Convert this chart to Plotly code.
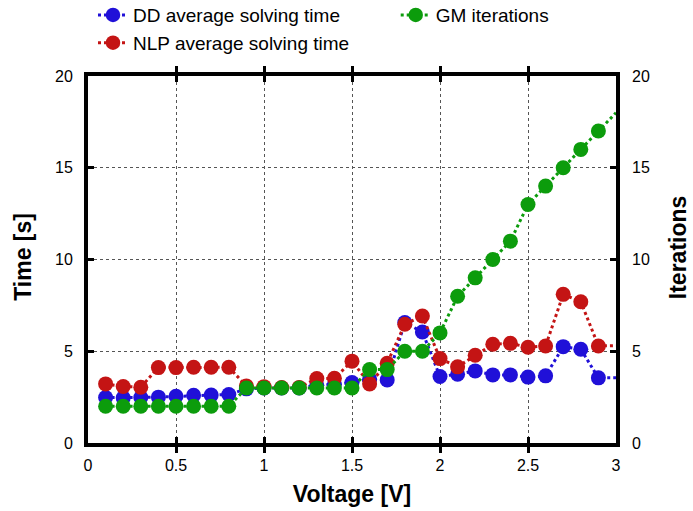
import plotly.graph_objects as go

voltage = [0.1, 0.2, 0.3, 0.4, 0.5, 0.6, 0.7, 0.8, 0.9, 1.0,
           1.1, 1.2, 1.3, 1.4, 1.5, 1.6, 1.7, 1.8, 1.9, 2.0,
           2.1, 2.2, 2.3, 2.4, 2.5, 2.6, 2.7, 2.8, 2.9, 3.0]
dd_time = [2.48, 2.47, 2.48, 2.50, 2.55, 2.60, 2.61, 2.64, 2.95, 3.00,
           3.00, 3.00, 3.15, 3.20, 3.30, 3.48, 3.44, 6.56, 6.05, 3.62,
           3.75, 3.93, 3.71, 3.71, 3.59, 3.66, 5.25, 5.11, 3.55, 3.55]
nlp_time = [3.22, 3.08, 3.04, 4.11, 4.11, 4.13, 4.13, 4.13, 3.10, 3.07,
            3.02, 3.03, 3.51, 3.53, 4.46, 3.22, 4.35, 6.47, 6.92, 4.60,
            4.15, 4.78, 5.38, 5.43, 5.22, 5.29, 8.10, 7.70, 5.29, 5.30]
gm_iter = [2, 2, 2, 2, 2, 2, 2, 2, 3, 3,
           3, 3, 3, 3, 3, 4, 4, 5, 5, 6,
           8, 9, 10, 11, 13, 14, 15, 16, 17, 18]

x_ticks = [0, 0.5, 1, 1.5, 2, 2.5, 3]
x_tick_labels = ["0", "0.5", "1", "1.5", "2", "2.5", "3"]
y_ticks = [0, 5, 10, 15, 20]
y_tick_labels = ["0", "5", "10", "15", "20"]

BLUE = "#2010d8"
RED = "#c41414"
GREEN = "#0c9c0c"
FONT = "Liberation Sans, Arial, sans-serif"

# last point (x=3) lies on the frame: line drawn, marker hidden
sizes = [15] * (len(voltage) - 1) + [0]

W, H = 693, 511
ml, mr, mt, mb = 88, 76.5, 76, 67.5
pw = W - ml - mr
ph = H - mt - mb


def px2x(p):
    return (p - ml) / pw


def px2y(p):
    return (H - mb - p) / ph


fig = go.Figure()
fig.add_trace(go.Scatter(x=voltage, y=dd_time, name="DD average solving time",
                         mode="lines+markers",
                         line=dict(color=BLUE, width=3, dash="dot"),
                         marker=dict(color=BLUE, size=sizes, opacity=1, line=dict(width=0)),
                         legend="legend", legendgroup="a"))
fig.add_trace(go.Scatter(x=voltage, y=nlp_time, name="NLP average solving time",
                         mode="lines+markers",
                         line=dict(color=RED, width=3, dash="dot"),
                         marker=dict(color=RED, size=sizes, opacity=1, line=dict(width=0)),
                         legend="legend", legendgroup="b"))
fig.add_trace(go.Scatter(x=voltage, y=gm_iter, name="GM iterations",
                         mode="lines+markers", yaxis="y2",
                         line=dict(color=GREEN, width=3, dash="dot"),
                         marker=dict(color=GREEN, size=sizes, opacity=1, line=dict(width=0)),
                         legend="legend2"))

fig.update_layout(
    width=W, height=H,
    margin=dict(l=ml, r=mr, t=mt, b=mb, pad=0, autoexpand=False),
    plot_bgcolor="white", paper_bgcolor="white",
    font=dict(family=FONT, size=16, color="black"),
    xaxis=dict(range=[0, 3], tickvals=x_ticks, ticktext=x_tick_labels,
               showline=True, linecolor="black", linewidth=4, mirror="allticks",
               ticks="inside", ticklen=6, tickwidth=3, tickcolor="black",
               ticklabelstandoff=5,
               showgrid=True, gridcolor="#555555", griddash="dot", gridwidth=1,
               zeroline=False,
               title=dict(text="<b>Voltage [V]</b>", font=dict(size=23), standoff=14)),
    yaxis=dict(range=[0, 20], tickvals=y_ticks, ticktext=y_tick_labels,
               showline=True, linecolor="black", linewidth=4, mirror=True,
               ticks="inside", ticklen=6, tickwidth=3, tickcolor="black",
               ticklabelstandoff=8,
               showgrid=True, gridcolor="#555555", griddash="dot", gridwidth=1,
               zeroline=False),
    yaxis2=dict(range=[0, 20], tickvals=y_ticks, ticktext=y_tick_labels,
                overlaying="y", side="right", showline=False,
                ticks="inside", ticklen=6, tickwidth=3, tickcolor="black",
                ticklabelstandoff=15,
                showgrid=False, zeroline=False),
    legend=dict(x=px2x(93), y=px2y(-4), xanchor="left", yanchor="top",
                bgcolor="rgba(0,0,0,0)", font=dict(size=19), tracegroupgap=0,
                itemwidth=30),
    legend2=dict(x=px2x(396), y=px2y(-4), xanchor="left", yanchor="top",
                 bgcolor="rgba(0,0,0,0)", font=dict(size=19), itemwidth=30),
    showlegend=True,
    annotations=[
        dict(text="<b>Time [s]</b>", textangle=-90, x=px2x(23), y=px2y(257),
             xref="paper", yref="paper", xanchor="center", yanchor="middle",
             showarrow=False, font=dict(size=23)),
        dict(text="<b>Iterations</b>", textangle=-90, x=px2x(693), y=px2y(247),
             xref="paper", yref="paper", xanchor="right", yanchor="middle",
             showarrow=False, font=dict(size=23)),
    ],
)

fig.write_html("out.html")
